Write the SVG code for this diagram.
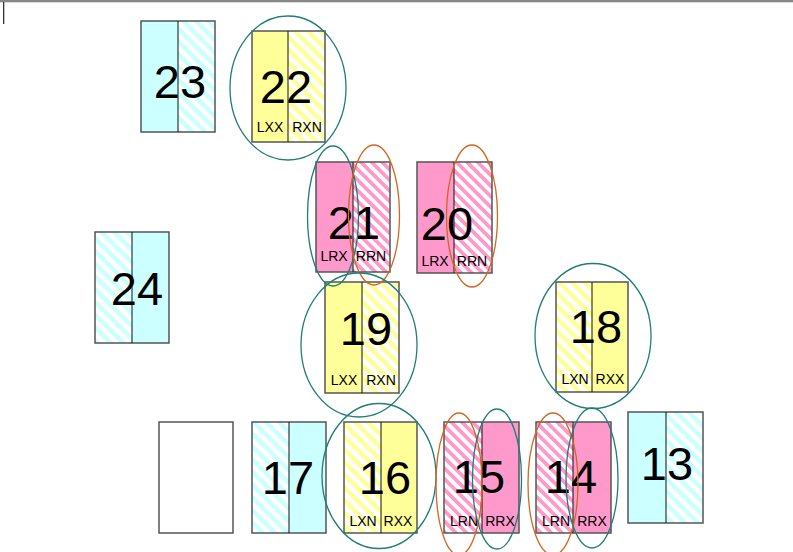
<svg xmlns="http://www.w3.org/2000/svg" width="793" height="552" viewBox="0 0 793 552">
<defs>
<pattern id="hc" width="9" height="9" patternUnits="userSpaceOnUse" patternTransform="rotate(45)"><rect width="9" height="9" fill="#fff"/><rect width="9" height="4.5" fill="#ccffff"/></pattern>
<pattern id="hy" width="9" height="9" patternUnits="userSpaceOnUse" patternTransform="rotate(45)"><rect width="9" height="9" fill="#fff"/><rect width="9" height="4.5" fill="#ffff99"/></pattern>
<pattern id="hp" width="7.5" height="7.5" patternUnits="userSpaceOnUse" patternTransform="rotate(45)"><rect width="7.5" height="7.5" fill="#fff"/><rect width="7.5" height="3.75" fill="#ff99cc"/></pattern>
</defs>
<style>
.c{fill:#ccffff}.y{fill:#ffff99}.p{fill:#ff99cc}
.hc{fill:url(#hc)}.hy{fill:url(#hy)}.hp{fill:url(#hp)}
.box{fill:none;stroke:#555;stroke-width:1.5}
.div{stroke:#111;stroke-width:1}
.num{font-family:"Liberation Sans",Arial,sans-serif;font-size:47px;fill:#000;text-anchor:middle}
.lab{font-family:"Liberation Sans",Arial,sans-serif;font-size:14px;fill:#000;text-anchor:middle}
.et{fill:none;stroke:#1f7d78;stroke-width:1.3}
.eo{fill:none;stroke:#d4661e;stroke-width:1.3}
</style>
<rect x="0" y="0" width="793" height="552" fill="#fff"/>
<rect x="0" y="0" width="793" height="2.3" fill="#888"/>
<rect x="3" y="2" width="1.3" height="22" fill="#333"/>

<g id="n23"><rect x="141" y="21" width="37" height="111" class="c"/><rect x="178" y="21" width="37" height="111" class="hc"/><rect x="141" y="21" width="74" height="111" class="box"/><line x1="178" y1="21" x2="178" y2="132" class="div"/><text x="180" y="98" class="num">23</text></g>

<g id="n22"><rect x="252" y="31" width="36" height="111" class="y"/><rect x="288" y="31" width="37" height="111" class="hy"/><rect x="252" y="31" width="73" height="111" class="box"/><line x1="288" y1="31" x2="288" y2="142" class="div"/><text x="286" y="103" class="num">22</text><text x="270" y="132" class="lab">LXX</text><text x="307" y="132" class="lab">RXN</text></g>

<g id="n21"><rect x="316" y="162" width="37" height="110" class="p"/><rect x="353" y="162" width="37" height="110" class="hp"/><rect x="316" y="162" width="74" height="110" class="box"/><line x1="353" y1="162" x2="353" y2="272" class="div"/><text x="354" y="239" class="num">21</text><text x="334" y="261" class="lab">LRX</text><text x="371" y="261" class="lab">RRN</text></g>

<g id="n20"><rect x="417" y="162" width="37" height="111" class="p"/><rect x="454" y="162" width="38" height="111" class="hp"/><rect x="417" y="162" width="75" height="111" class="box"/><line x1="454" y1="162" x2="454" y2="273" class="div"/><text x="447" y="240" class="num">20</text><text x="435" y="266" class="lab">LRX</text><text x="472" y="266" class="lab">RRN</text></g>

<g id="n24"><rect x="95" y="232" width="37" height="111" class="hc"/><rect x="132" y="232" width="37" height="111" class="c"/><rect x="95" y="232" width="74" height="111" class="box"/><line x1="132" y1="232" x2="132" y2="343" class="div"/><text x="137" y="305" class="num">24</text></g>

<g id="n19"><rect x="325" y="282" width="37" height="111" class="y"/><rect x="362" y="282" width="37" height="111" class="hy"/><rect x="325" y="282" width="74" height="111" class="box"/><line x1="362" y1="282" x2="362" y2="393" class="div"/><text x="366" y="345" class="num">19</text><text x="344" y="385" class="lab">LXX</text><text x="381" y="385" class="lab">RXN</text></g>

<g id="n18"><rect x="556" y="282" width="36" height="110" class="hy"/><rect x="592" y="282" width="36" height="110" class="y"/><rect x="556" y="282" width="72" height="110" class="box"/><line x1="592" y1="282" x2="592" y2="392" class="div"/><text x="596" y="343" class="num">18</text><text x="575" y="384" class="lab">LXN</text><text x="610" y="384" class="lab">RXX</text></g>

<g id="nEmpty"><rect x="159" y="422" width="74" height="111" fill="#fff" class="box"/></g>

<g id="n17"><rect x="252" y="422" width="37" height="111" class="hc"/><rect x="289" y="422" width="37" height="111" class="c"/><rect x="252" y="422" width="74" height="111" class="box"/><line x1="289" y1="422" x2="289" y2="533" class="div"/><text x="288" y="494" class="num">17</text></g>

<g id="n16"><rect x="344" y="422" width="37" height="111" class="hy"/><rect x="381" y="422" width="36" height="111" class="y"/><rect x="344" y="422" width="73" height="111" class="box"/><line x1="381" y1="422" x2="381" y2="533" class="div"/><text x="385" y="494" class="num">16</text><text x="363" y="526" class="lab">LXN</text><text x="398" y="526" class="lab">RXX</text></g>

<g id="n15"><rect x="444" y="422" width="38" height="111" class="hp"/><rect x="482" y="422" width="37" height="111" class="p"/><rect x="444" y="422" width="75" height="111" class="box"/><line x1="482" y1="422" x2="482" y2="533" class="div"/><text x="479" y="493" class="num">15</text><text x="464" y="526" class="lab">LRN</text><text x="500" y="526" class="lab">RRX</text></g>

<g id="n14"><rect x="536" y="422" width="37" height="111" class="hp"/><rect x="573" y="422" width="38" height="111" class="p"/><rect x="536" y="422" width="75" height="111" class="box"/><line x1="573" y1="422" x2="573" y2="533" class="div"/><text x="571" y="493" class="num">14</text><text x="556" y="526" class="lab">LRN</text><text x="592" y="526" class="lab">RRX</text></g>

<g id="n13"><rect x="628" y="412" width="38" height="111" class="c"/><rect x="666" y="412" width="37" height="111" class="hc"/><rect x="628" y="412" width="75" height="111" class="box"/><line x1="666" y1="412" x2="666" y2="523" class="div"/><text x="667" y="480" class="num">13</text></g>

<g id="loops">
<ellipse cx="288" cy="88" rx="58" ry="72" class="et"/>
<ellipse cx="333" cy="216" rx="25.5" ry="70" class="et"/>
<ellipse cx="374" cy="215" rx="25.5" ry="70" class="eo"/>
<ellipse cx="472" cy="216" rx="25.5" ry="71" class="eo"/>
<ellipse cx="359" cy="345" rx="58" ry="72" class="et"/>
<ellipse cx="593" cy="336" rx="58" ry="72.5" class="et"/>
<ellipse cx="379" cy="476" rx="57" ry="72.5" class="et"/>
<ellipse cx="459" cy="484" rx="23" ry="71" class="eo"/>
<ellipse cx="497" cy="479" rx="24.5" ry="70" class="et"/>
<ellipse cx="553" cy="484" rx="25" ry="71" class="eo"/>
<ellipse cx="592" cy="478" rx="26" ry="70" class="et"/>
</g>
</svg>
